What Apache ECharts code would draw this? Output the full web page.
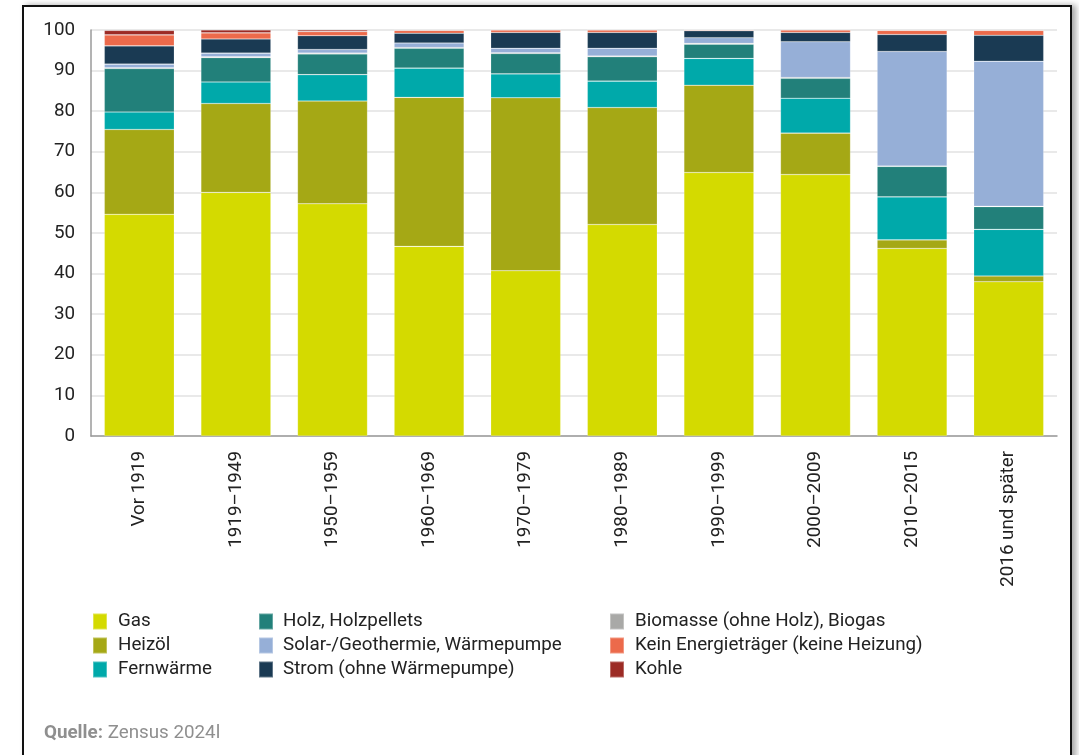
<!DOCTYPE html>
<html>
<head>
<meta charset="utf-8">
<script src="https://cdn.jsdelivr.net/npm/echarts@6/dist/echarts.min.js"></script>
<style>
html, body { margin: 0; padding: 0; background: #fff; overflow: hidden; }
.rahmen {
    position: absolute; left: 22px; top: 5px; width: 1046px; height: 800px;
    border: 2px solid #111; box-shadow: 4px 0 6px rgba(0,0,0,0.35);
}
#chart { position: absolute; left: 0; top: 0; width: 1079px; height: 755px; }
</style>
</head>
<body>
<div class="rahmen"></div>
<div id="chart"></div>
<script>
// Baujahr-Kategorien
const kategorien = ['Vor 1919', '1919–1949', '1950–1959', '1960–1969', '1970–1979',
    '1980–1989', '1990–1999', '2000–2009', '2010–2015', '2016 und später'];
const yTicks = [0, 10, 20, 30, 40, 50, 60, 70, 80, 90, 100];

// Anteile in %
const gas        = [54.6, 60.0, 57.2, 46.7, 40.7, 52.1, 64.9, 64.4, 46.2, 38.0];
const heizoel    = [20.9, 21.9, 25.3, 36.7, 42.6, 28.8, 21.5, 10.2, 2.1, 1.4];
const fernwaerme = [4.3, 5.3, 6.5, 7.2, 5.9, 6.5, 6.6, 8.6, 10.6, 11.5];
const holz       = [10.7, 6.0, 5.1, 4.9, 5.0, 6.0, 3.5, 4.9, 7.5, 5.6];
const biomasse   = [0.2, 0.2, 0.2, 0.2, 0.2, 0.2, 0.2, 0.2, 0.1, 0.1];
const solar      = [0.9, 0.9, 0.9, 1.1, 1.1, 1.9, 1.4, 8.8, 28.2, 35.7];
const strom      = [4.5, 3.5, 3.4, 2.4, 3.9, 3.9, 1.7, 2.3, 4.2, 6.4];
const keine      = [2.7, 1.5, 1.0, 0.7, 0.6, 0.6, 0.2, 0.6, 1.0, 1.2];
const kohle      = [1.1, 0.7, 0.4, 0.1, 0.0, 0.0, 0.0, 0.0, 0.0, 0.0];

const namen = {
    gas: 'Gas', heizoel: 'Heizöl', fernwaerme: 'Fernwärme',
    holz: 'Holz, Holzpellets', solar: 'Solar-/Geothermie, Wärmepumpe', strom: 'Strom (ohne Wärmepumpe)',
    biomasse: 'Biomasse (ohne Holz), Biogas', keine: 'Kein Energieträger (keine Heizung)', kohle: 'Kohle'
};

// Reihenfolge von unten nach oben
const reihen = [
    [namen.gas, gas, '#d4da00'],
    [namen.heizoel, heizoel, '#a5a815'],
    [namen.fernwaerme, fernwaerme, '#00a9aa'],
    [namen.holz, holz, '#22807a'],
    [namen.biomasse, biomasse, '#a9a9a7'],
    [namen.solar, solar, '#96afd7'],
    [namen.strom, strom, '#1a3a53'],
    [namen.keine, keine, '#ec6a4b'],
    [namen.kohle, kohle, '#9c2b25']
];

const schrift = 'Roboto, "Noto Sans", sans-serif';
const gross = 18.8;
let chart = echarts.init(document.getElementById('chart'));

function legende(left, daten, gap) {
    return {
        orient: 'vertical', left: left, top: 612, padding: 0,
        itemWidth: 14, itemHeight: 16, itemGap: 5, icon: 'rect',
        selectedMode: false,
        data: daten,
        textStyle: { fontFamily: schrift, fontSize: gross, lineHeight: 19, color: '#222', padding: [0, 0, 0, gap] }
    };
}

var option = {
    animation: false,
    textStyle: { fontFamily: schrift },
    grid: { left: 91, right: 22, top: 30, bottom: 319, containLabel: false },
    legend: [
        legende(92, [namen.gas, namen.heizoel, namen.fernwaerme], 6),
        legende(258, [namen.holz, namen.solar, namen.strom], 5),
        legende(609, [namen.biomasse, namen.keine, namen.kohle], 6)
    ],
    xAxis: {
        type: 'category',
        data: kategorien,
        axisTick: { show: false },
        axisLine: { lineStyle: { color: '#9a9a9a', width: 1.5 } },
        axisLabel: { rotate: 90, margin: 15, fontSize: gross, color: '#222', fontFamily: schrift }
    },
    yAxis: {
        type: 'value',
        min: yTicks[0], max: yTicks[yTicks.length - 1], interval: 10,
        axisLine: { show: true, lineStyle: { color: '#9a9a9a', width: 1.5 } },
        axisTick: { show: false },
        splitLine: { lineStyle: { color: '#e2e2e2', width: 1.5 } },
        axisLabel: { margin: 16, fontSize: gross, color: '#222', fontFamily: schrift }
    },
    series: reihen.map(function (r) {
        return {
            name: r[0],
            type: 'bar',
            stack: 'gesamt',
            barWidth: 70,
            data: r[1],
            itemStyle: { color: r[2], borderColor: 'rgba(255,255,255,0.3)', borderWidth: 0.6 }
        };
    }),
    graphic: [{
        type: 'text', left: 44, top: 724,
        style: {
            text: '{b|Quelle:} Zensus 2024l',
            font: gross + 'px ' + schrift, fill: '#8f8f8f',
            rich: { b: { fontWeight: 'bold', fontSize: gross, fill: '#8f8f8f', fontFamily: schrift } }
        }
    }]
};
chart.setOption(option);
</script>
</body>
</html>
